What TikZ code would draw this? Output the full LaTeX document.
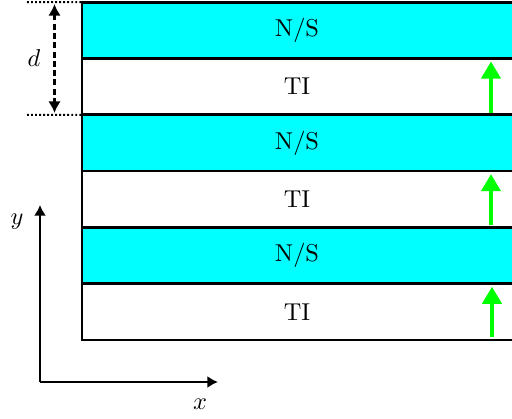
\documentclass[tikz,border=0pt]{standalone}
\usetikzlibrary{arrows.meta,calc}
\definecolor{layercyan}{RGB}{0,255,255}
\definecolor{spingreen}{RGB}{0,255,0}
\begin{document}
\begin{tikzpicture}[x=0.41pt,y=-0.41pt,
  layer/.style={rectangle,inner sep=0pt,outer sep=0pt,minimum width=176.3pt,minimum height=23.08pt},
  nslayer/.style={layer,fill=layercyan},
  tilayer/.style={layer},
  edge/.style={line width=1.1pt,line cap=rect},
  spin/.style={draw=spingreen,line width=1.6pt,-{Triangle[length=7pt,width=7.8pt]}},
  dotline/.style={line width=0.8pt,dash pattern=on 0.8pt off 0.85pt},
  dimarrow/.style={line width=0.9pt,dash pattern=on 2.4pt off 1.4pt,{Latex[length=4.8pt,width=5.2pt]}-{Latex[length=4.8pt,width=5.2pt]}},
  axis/.style={line width=0.95pt,-{Latex[length=4.4pt,width=5pt]}}
]
\useasboundingbox (0,0) rectangle (512,419);
\clip (0,0) rectangle (512,419);
% layers
\node[nslayer] (l1) at (297,30.35) {N/S};
\node[tilayer] (l2) at (297,86.65) {TI};
\node[nslayer] (l3) at (297,142.95) {N/S};
\node[tilayer] (l4) at (297,199.25) {TI};
\node[nslayer] (l5) at (297,255.55) {N/S};
\node[tilayer] (l6) at (297,311.85) {TI};
% boundary lines
\draw[edge] (l1.north west) -- (l1.north east);
\draw[edge] (l1.south west) -- (l1.south east);
\draw[edge] (l2.south west) -- (l2.south east);
\draw[edge] (l3.south west) -- (l3.south east);
\draw[edge] (l4.south west) -- (l4.south east);
\draw[edge] (l5.south west) -- (l5.south east);
\draw[edge] (l6.south west) -- (l6.south east);
\draw[edge] (l1.north west) -- (l6.south west);
% spin arrows
\draw[spin] ($(l2.south east)+(-21,-2)$) -- ($(l2.north east)+(-21,3)$);
\draw[spin] ($(l4.south east)+(-21,-2)$) -- ($(l4.north east)+(-21,3)$);
\draw[spin] ($(l6.south east)+(-20,-3)$) -- ($(l6.north east)+(-20,3)$);
% period d
\coordinate (dt) at (27,2.2);
\coordinate (db) at (27,114.8);
\draw[dotline] (dt) -- (l1.north west);
\draw[dotline] (db) -- (l2.south west);
\coordinate (at) at (54.5,4);
\coordinate (ab) at (54.5,113);
\draw[dimarrow] (at) -- (ab);
\node (dlab) at (34,58) {$d$};
% axes
\coordinate (O) at (40,382);
\coordinate (X) at (218,382);
\coordinate (Y) at (40,205);
\draw[axis] (O) -- (X);
\draw[axis] (O) -- (Y);
\node (xlab) at (200,404) {$x$};
\node (ylab) at (17,222) {$y$};
\end{tikzpicture}
\end{document}
